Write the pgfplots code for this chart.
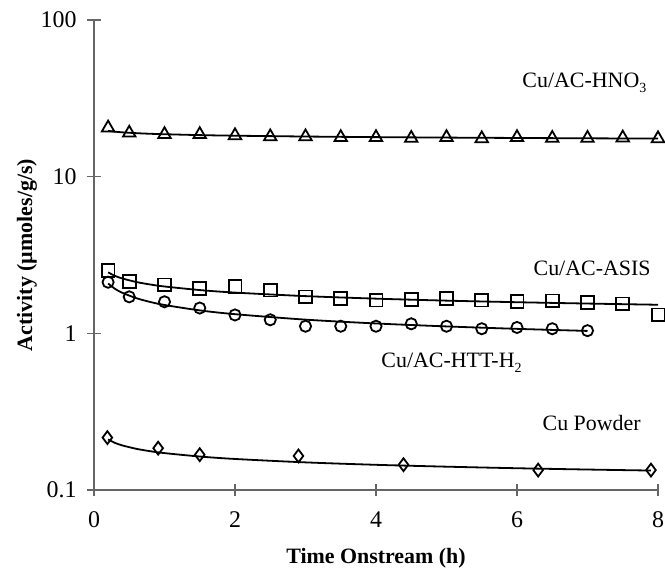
\documentclass[border=0pt]{standalone}
\usepackage{fontspec}
\setmainfont{Liberation Serif}
\usepackage{pgfplots}
\pgfplotsset{compat=1.18}
\newcommand{\sub}[1]{\raisebox{-0.45ex}{\fontsize{7}{8}\selectfont #1}}
\begin{document}
\begin{tikzpicture}
\begin{axis}[
  at={(47bp,39.5bp)}, anchor=south west,
  width=282bp, height=235bp, scale only axis,
  xmin=0, xmax=8, ymin=0.1, ymax=100, ymode=log,
  axis lines=left,
  axis line style={draw=black!60, line width=0.8bp, -},
  xtick={0,2,4,6,8},
  ytick={0.1,1,10,100}, yticklabels={0.1,1,10,100},
  yminorticks=false, xminorticks=false,
  tick align=center, major tick length=6.5bp,
  tick style={draw=black!60, line width=0.8bp},
  ticklabel style={font=\fontsize{12}{14}\selectfont},
  /pgf/number format/assume math mode=true,
  xticklabel style={yshift=-4bp},
  yticklabel style={xshift=-2bp},
  xlabel={\textbf{Time Onstream (h)}},
  xlabel style={at={(axis description cs:0.5,0)}, anchor=center, yshift=-34bp, font=\fontsize{11}{13}\selectfont},
  ylabel={\textbf{Activity (µmoles/g/s)}},
  ylabel style={at={(axis description cs:0,0.5)}, anchor=center, yshift=33.5bp, xshift=0pt, font=\fontsize{11}{13}\selectfont},
  clip=false,
]
% fitted curves
\addplot[black, line width=0.9bp, smooth, no marks] coordinates {
 (0.2,19.6) (0.3,19.36) (0.4,19.19) (0.6,18.95) (0.8,18.78) (1,18.66) (1.5,18.42) (2,18.26) (3,18.04) (4,17.88) (5,17.76) (6,17.66) (7,17.57) (8,17.50)};
\addplot[black, line width=0.9bp, smooth, no marks] coordinates {
 (0.2,2.45) (0.3,2.325) (0.4,2.241) (0.6,2.126) (0.8,2.049) (1,1.991) (1.5,1.889) (2,1.820) (3,1.728) (4,1.665) (5,1.617) (6,1.580) (7,1.549) (8,1.522)};
\addplot[black, line width=0.9bp, smooth, no marks] coordinates {
 (0.2,2.08) (0.3,1.921) (0.4,1.816) (0.6,1.677) (0.8,1.585) (1,1.517) (1.5,1.401) (2,1.325) (3,1.223) (4,1.156) (5,1.107) (6,1.068) (7,1.036)};
\addplot[black, line width=0.9bp, smooth, no marks] coordinates {
 (0.2,0.21) (0.3,0.1997) (0.4,0.1927) (0.6,0.1832) (0.8,0.1768) (1,0.1720) (1.5,0.1636) (2,0.1578) (3,0.1501) (4,0.1448) (5,0.1409) (6,0.1377) (7,0.1351) (7.9,0.1331)};
% data
\addplot[only marks, mark=triangle, mark size=3.6bp, mark options={black, line width=0.9bp, fill=none}] coordinates {
 (0.2,20.5) (0.5,19.0) (1,18.6) (1.5,18.6) (2,18.3) (2.5,18.0) (3,18.0) (3.5,17.8) (4,17.8) (4.5,17.6) (5,17.8) (5.5,17.5) (6,17.8) (6.5,17.6) (7,17.6) (7.5,17.7) (8,17.5)};
\addplot[only marks, mark=square, mark size=3.2bp, mark options={black, line width=0.9bp, fill=none}] coordinates {
 (0.2,2.51) (0.5,2.14) (1,2.04) (1.5,1.94) (2,1.99) (2.5,1.89) (3,1.71) (3.5,1.67) (4,1.63) (4.5,1.65) (5,1.67) (5.5,1.63) (6,1.59) (6.5,1.61) (7,1.57) (7.5,1.54) (8,1.31)};
\addplot[only marks, mark=o, mark size=2.8bp, mark options={black, line width=0.9bp, fill=none}] coordinates {
 (0.2,2.12) (0.5,1.71) (1,1.59) (1.5,1.45) (2,1.31) (2.5,1.22) (3,1.11) (3.5,1.11) (4,1.11) (4.5,1.15) (5,1.11) (5.5,1.07) (6,1.09) (6.5,1.07) (7,1.04)};
\addplot[only marks, mark=diamond, mark size=3.2bp, mark options={black, line width=0.9bp, fill=none}] coordinates {
 (0.19,0.216) (0.91,0.185) (1.5,0.168) (2.9,0.165) (4.39,0.145) (6.3,0.134) (7.9,0.134)};
% labels
\node[anchor=east, font=\fontsize{11}{13}\selectfont, inner sep=0pt] at (axis cs:7.84,39.6) {Cu/AC-HNO\sub{3}};
\node[anchor=east, font=\fontsize{11}{13}\selectfont, inner sep=0pt] at (axis cs:7.9,2.61) {Cu/AC-ASIS};
\node[anchor=east, font=\fontsize{11}{13}\selectfont, inner sep=0pt] at (axis cs:6.07,0.647) {Cu/AC-HTT-H\sub{2}};
\node[anchor=east, font=\fontsize{11}{13}\selectfont, inner sep=0pt] at (axis cs:7.76,0.268) {Cu Powder};
\end{axis}
\pgfresetboundingbox
\path (0,0) rectangle (332.5bp,284.5bp);
\end{tikzpicture}
\end{document}
